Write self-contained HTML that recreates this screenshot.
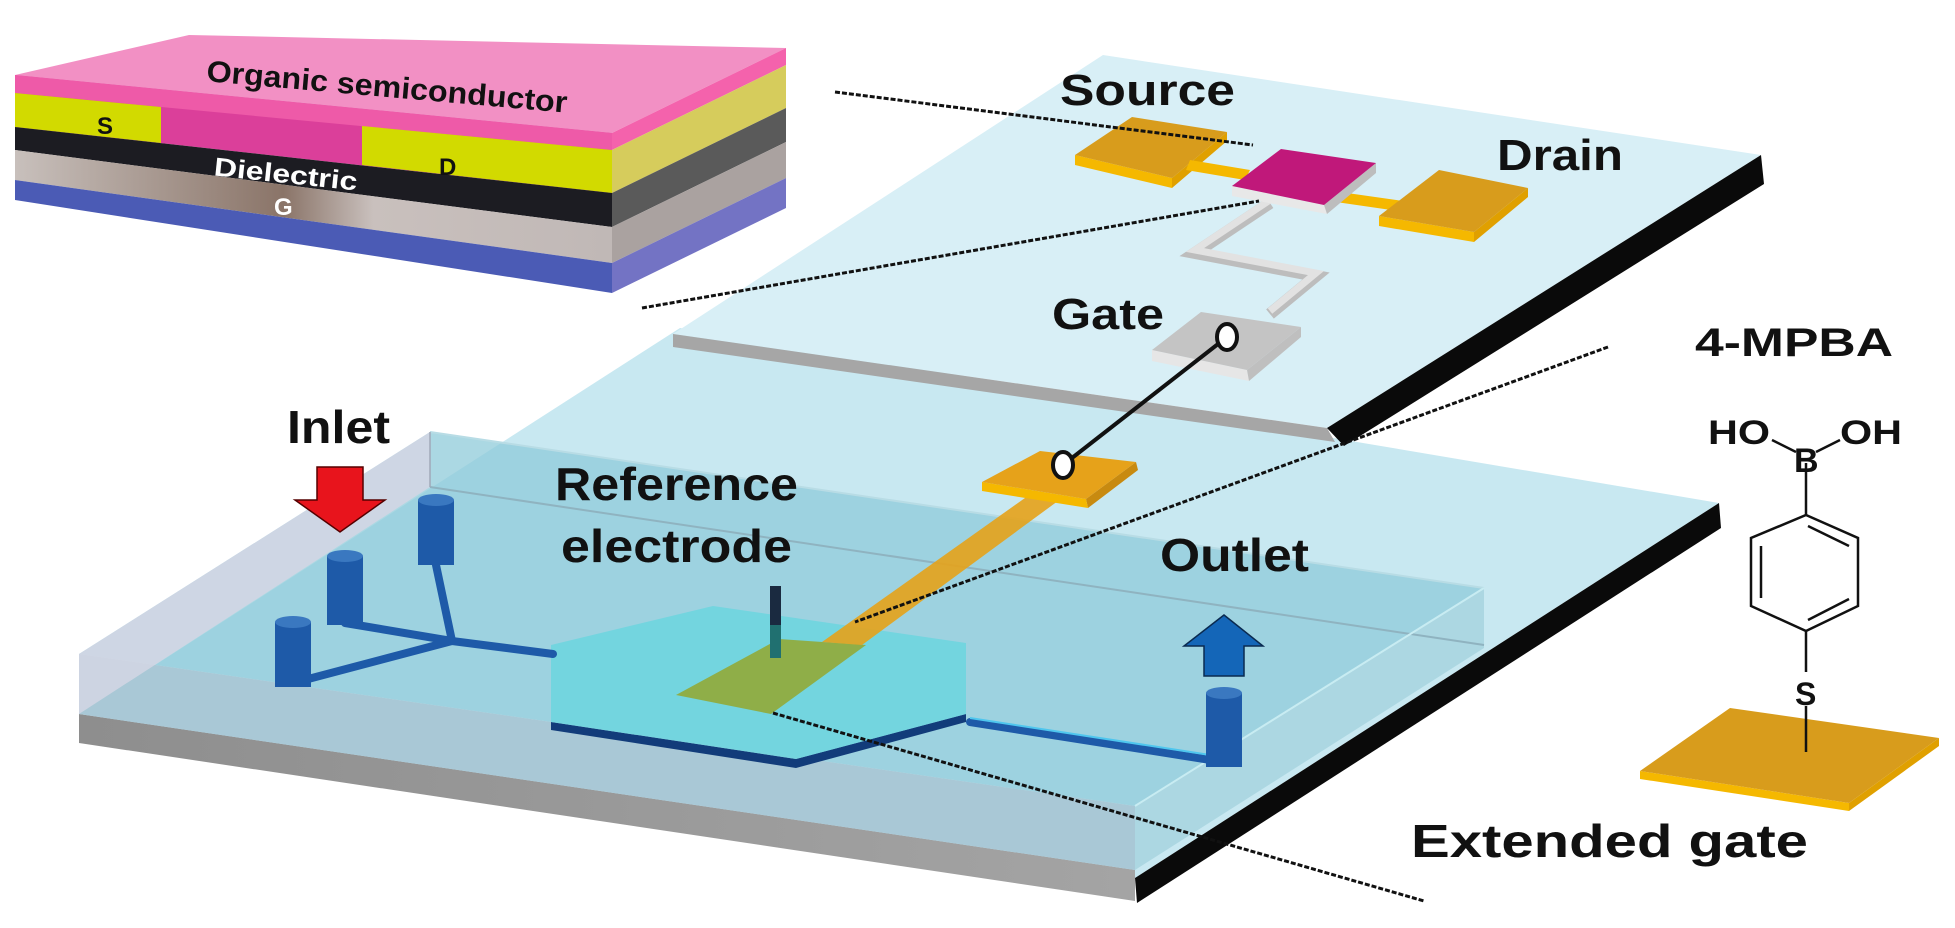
<!DOCTYPE html>
<html><head><meta charset="utf-8"><style>
html,body{margin:0;padding:0;background:#fff;}
svg{display:block;}
text{font-family:"Liberation Sans",Arial,sans-serif;font-weight:bold;fill:#111;}
</style></head><body>
<svg width="1955" height="928" viewBox="0 0 1955 928" xmlns="http://www.w3.org/2000/svg">
<defs>
<linearGradient id="gr" x1="0" x2="1" y1="0" y2="0">
<stop offset="0" stop-color="#c8c0bc"/><stop offset="0.45" stop-color="#8a7468"/><stop offset="0.6" stop-color="#c9c0bd"/><stop offset="1" stop-color="#c0b8b6"/></linearGradient>
<linearGradient id="base" x1="0" x2="1"><stop offset="0" stop-color="#8e8e8e"/><stop offset="1" stop-color="#a4a4a4"/></linearGradient>
</defs>

<!-- OFET stack -->
<polygon points="15,75 189,35 786,48 612,133" fill="#f290c4"/>
<polygon points="15,75 612,133 612,193 15,127" fill="#db3f9a"/>
<polygon points="15,75 612,133 612,150 15,93" fill="#ee5aa8"/>
<polygon points="15,93 161,107 161,143 15,127" fill="#d2da00"/>
<polygon points="362,126 612,150 612,193 362,165" fill="#d2da00"/>
<polygon points="15,127 612,193 612,227 15,150" fill="#1c1c22"/>
<polygon points="15,150 612,227 612,263 15,180" fill="url(#gr)"/>
<polygon points="15,180 612,263 612,293 15,200" fill="#4b5bb5"/>
<polygon points="612,133 786,48 786,65 612,150" fill="#f462ac"/>
<polygon points="612,150 786,65 786,108 612,193" fill="#d6cc5c"/>
<polygon points="612,193 786,108 786,142 612,227" fill="#5a5a5a"/>
<polygon points="612,227 786,142 786,178 612,263" fill="#aaa2a0"/>
<polygon points="612,263 786,178 786,208 612,293" fill="#7373c4"/>
<text x="206" y="97" font-size="30" textLength="362" lengthAdjust="spacingAndGlyphs" transform="rotate(5 388 87)">Organic semiconductor</text>
<text x="97" y="134" font-size="24">S</text>
<text x="439" y="175" font-size="24">D</text>
<text x="214" y="183" font-size="26" style="fill:#fff" textLength="144" lengthAdjust="spacingAndGlyphs" transform="rotate(6 286 172)">Dielectric</text>
<text x="274" y="215" font-size="24" style="fill:#fff">G</text>

<!-- lower slab -->
<polygon points="680,328 1719,503 1135,878 79,714" fill="#c8e8f1"/>
<polygon points="1719,503 1721,528 1137,903 1135,878" fill="#0a0a0a"/>
<polygon points="79,714 1135,870 1135,901 79,743" fill="url(#base)"/>
<!-- PDMS -->
<polygon points="430,432 1484,588 1135,806 79,654" fill="#8fcbd9" fill-opacity="0.75"/>
<polygon points="1484,588 1484,648 1135,870 1135,806" fill="#9fd0dc" fill-opacity="0.7"/>
<polygon points="79,654 1135,806 1135,870 79,714" fill="#a9c8d6"/>
<polygon points="79,654 430,432 430,487 79,714" fill="#d4d6e4" fill-opacity="0.85"/>
<line x1="430" y1="487" x2="1484" y2="645" stroke="#8fb3c0" stroke-width="2"/>
<line x1="430" y1="432" x2="1484" y2="588" stroke="#b8dce5" stroke-width="2"/>
<line x1="1484" y1="588" x2="1135" y2="806" stroke="#c8ecf2" stroke-width="2"/>
<line x1="430" y1="432" x2="430" y2="487" stroke="#a0a8b8" stroke-width="1.5"/>

<!-- top plate -->
<polygon points="1103,55 1761,155 1327,428 673,334" fill="#d8eff6"/>
<polygon points="673,334 1327,428 1335,442 673,347" fill="#a6a6a6"/>
<polygon points="1761,155 1764,184 1344,446 1327,428" fill="#0a0a0a"/>

<!-- OFET pads -->
<polygon points="1075,155 1172,178 1172,188 1075,165" fill="#f5b800"/>
<polygon points="1172,178 1227,132 1227,141 1172,188" fill="#e0a000"/>
<polygon points="1132,117 1227,132 1172,178 1075,155" fill="#d89c1c"/>
<polygon points="1190,160 1250,170 1245,180 1186,170" fill="#f5b800"/>
<polygon points="1340,192 1410,202 1405,212 1336,202" fill="#f5b800"/>
<polygon points="1379,216 1474,232 1474,242 1379,226" fill="#f5b800"/>
<polygon points="1474,232 1528,188 1528,197 1474,242" fill="#e0a000"/>
<polygon points="1439,170 1528,188 1474,232 1379,216" fill="#d89c1c"/>
<!-- gate wire -->
<polyline points="1270,203 1195,253 1316,276 1270,314" fill="none" stroke="#bdbdbd" stroke-width="12"/>
<polyline points="1270,200 1195,250 1316,273 1270,311" fill="none" stroke="#e2e2e2" stroke-width="7"/>
<polygon points="1232,186 1324,205 1327,214 1232,196" fill="#e8e8e8"/>
<polygon points="1324,205 1376,163 1376,173 1327,214" fill="#bdbdbd"/>
<polygon points="1281,149 1376,163 1324,205 1232,186" fill="#c0187a"/>
<polygon points="1152,350 1247,370 1249,381 1152,361" fill="#e6e6e6"/>
<polygon points="1247,370 1301,327 1301,337 1249,381" fill="#bfbfbf"/>
<polygon points="1201,312 1301,327 1247,370 1152,350" fill="#c4c4c4"/>

<!-- microfluidics -->
<polygon points="551,722 796,759 966,714 966,722 796,768 551,730" fill="#123c7a"/>
<polygon points="551,645 713,606 966,643 966,714 796,759 551,722" fill="#6fd5df" fill-opacity="0.9"/>
<polygon points="676,695 779,639 866,645 771,714" fill="#8fae48"/>
<polygon points="822,642 862,645 1062,498 1032,493" fill="#e6a21a" fill-opacity="0.9"/>
<polygon points="1086,499 1136,462 1138,470 1088,508" fill="#c88a10"/>
<polygon points="982,482 1086,499 1088,508 982,491" fill="#f5b800"/>
<polygon points="982,482 1040,451 1136,462 1086,499" fill="#e6a21a"/>
<rect x="770" y="586" width="11" height="72" fill="#1a2a40"/>
<rect x="770" y="625" width="11" height="33" fill="#207070"/>
<g stroke="#1e5aa8" stroke-width="8" stroke-linecap="round" fill="none">
<line x1="293" y1="683" x2="452" y2="641"/>
<line x1="345" y1="623" x2="452" y2="641"/>
<line x1="436" y1="565" x2="452" y2="641"/>
<line x1="452" y1="641" x2="553" y2="654"/>
<line x1="970" y1="722" x2="1223" y2="762"/>
</g>
<line x1="970" y1="718" x2="1223" y2="757" stroke="#4fc6ee" stroke-width="2"/>
<g fill="#1e5aa8">
<rect x="275" y="622" width="36" height="65"/><ellipse cx="293" cy="622" rx="18" ry="6" fill="#3a78c0"/>
<rect x="327" y="556" width="36" height="69"/><ellipse cx="345" cy="556" rx="18" ry="6" fill="#3a78c0"/>
<rect x="418" y="500" width="36" height="65"/><ellipse cx="436" cy="500" rx="18" ry="6" fill="#3a78c0"/>
<rect x="1206" y="693" width="36" height="74"/><ellipse cx="1224" cy="693" rx="18" ry="6" fill="#3a78c0"/>
</g>
<!-- arrows -->
<polygon points="317,467 363,467 363,500 385,500 340,532 295,500 317,500" fill="#e8141c" stroke="#500" stroke-width="1.5"/>
<polygon points="1224,615 1263,646 1244,646 1244,676 1204,676 1204,646 1184,646" fill="#1466b8" stroke="#0a2a50" stroke-width="1.5"/>

<!-- connection -->
<line x1="1227" y1="337" x2="1063" y2="465" stroke="#111" stroke-width="4"/>
<ellipse cx="1227" cy="337" rx="10" ry="13" fill="#fff" stroke="#111" stroke-width="4"/>
<ellipse cx="1063" cy="465" rx="10" ry="13" fill="#fff" stroke="#111" stroke-width="4"/>

<!-- dashed lines -->
<g stroke="#111" stroke-width="3" stroke-dasharray="5 2" fill="none">
<line x1="835" y1="92" x2="1253" y2="145"/>
<line x1="642" y1="308" x2="1259" y2="201"/>
<line x1="1608" y1="347" x2="855" y2="622"/>
<line x1="773" y1="713" x2="1424" y2="901"/>
</g>

<!-- molecule -->
<polygon points="1640,771 1849,803 1849,811 1640,779" fill="#f5b800"/>
<polygon points="1849,803 1939,738 1939,746 1849,811" fill="#e0a000"/>
<polygon points="1640,771 1730,708 1939,738 1849,803" fill="#d89c1c"/>
<g stroke="#111" stroke-width="2.5" fill="none">
<line x1="1806" y1="463" x2="1806" y2="515"/>
<polygon points="1806,515 1858,538 1858,606 1806,631 1751,606 1751,538"/>
<line x1="1761" y1="546" x2="1761" y2="598"/>
<line x1="1808" y1="526" x2="1849" y2="546"/>
<line x1="1808" y1="620" x2="1849" y2="599"/>
<line x1="1806" y1="631" x2="1806" y2="672"/>
<line x1="1806" y1="706" x2="1806" y2="752"/>
<line x1="1772" y1="440" x2="1796" y2="452"/>
<line x1="1816" y1="452" x2="1840" y2="440"/>
</g>
<text x="1708" y="444" font-size="34" textLength="62" lengthAdjust="spacingAndGlyphs">HO</text>
<text x="1840" y="444" font-size="34" textLength="62" lengthAdjust="spacingAndGlyphs">OH</text>
<text x="1794" y="472" font-size="34">B</text>
<text x="1795" y="705" font-size="32">S</text>

<!-- labels -->
<text x="1060" y="105" font-size="44" textLength="175" lengthAdjust="spacingAndGlyphs">Source</text>
<text x="1497" y="170" font-size="44" textLength="126" lengthAdjust="spacingAndGlyphs">Drain</text>
<text x="1052" y="329" font-size="44" textLength="112" lengthAdjust="spacingAndGlyphs">Gate</text>
<text x="1695" y="356" font-size="40" textLength="198" lengthAdjust="spacingAndGlyphs">4-MPBA</text>
<text x="287" y="443" font-size="46" textLength="103" lengthAdjust="spacingAndGlyphs">Inlet</text>
<text x="555" y="500" font-size="46" textLength="243" lengthAdjust="spacingAndGlyphs">Reference</text>
<text x="561" y="562" font-size="46" textLength="231" lengthAdjust="spacingAndGlyphs">electrode</text>
<text x="1160" y="571" font-size="46" textLength="149" lengthAdjust="spacingAndGlyphs">Outlet</text>
<text x="1411" y="857" font-size="46" textLength="397" lengthAdjust="spacingAndGlyphs">Extended gate</text>
</svg>
</body></html>
